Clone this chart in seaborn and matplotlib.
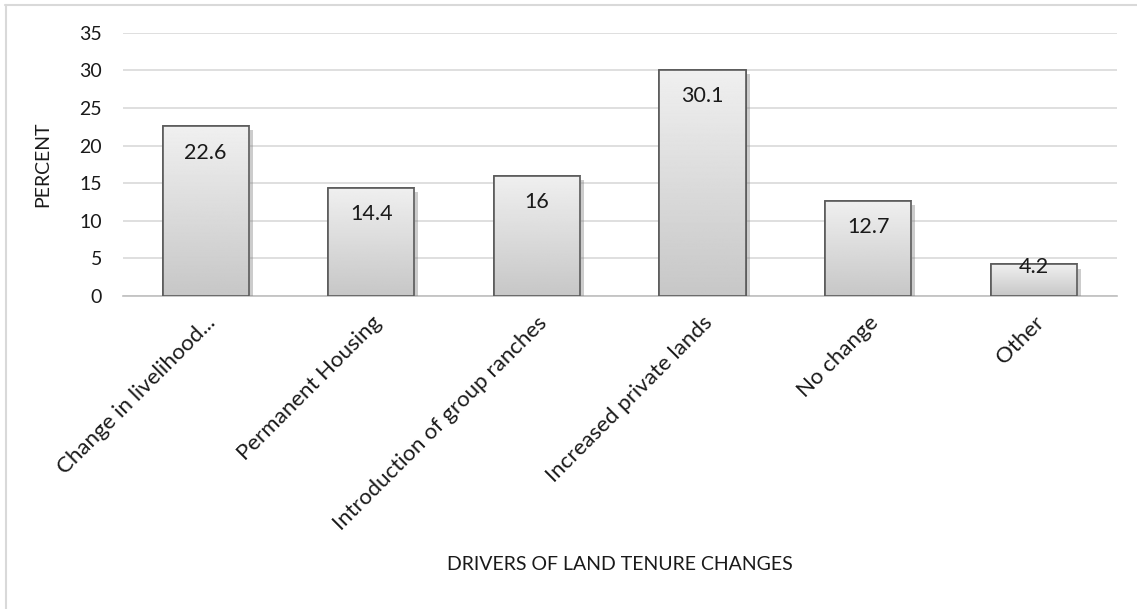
import numpy as np
import pandas as pd
import matplotlib
matplotlib.use("Agg")
import matplotlib.pyplot as plt
import matplotlib.patheffects as pe
from matplotlib.patches import Rectangle
from matplotlib.lines import Line2D
import seaborn as sns

# --- Data ---
drivers = [
    "Change in livelihood...",
    "Permanent Housing",
    "Introduction of group ranches",
    "Increased private lands",
    "No change",
    "Other",
]
percent = [22.6, 14.4, 16, 30.1, 12.7, 4.2]
value_labels = ["22.6", "14.4", "16", "30.1", "12.7", "4.2"]
y_ticks = [0, 5, 10, 15, 20, 25, 30, 35]

# --- Style ---
sns.set_style("white")
plt.rcParams["font.family"] = ["Lato", "DejaVu Sans"]
TEXT_COLOR = "#1a1a1a"
GRID_COLOR = "#d9d9d9"

df = pd.DataFrame({"driver": drivers, "percent": percent})

fig = plt.figure(figsize=(11.37, 6.09), dpi=100)
ax = fig.add_axes([0.108, 0.514, 0.874, 0.432])

sns.barplot(data=df, x="driver", y="percent", ax=ax, width=0.52,
            color="#dcdcdc", edgecolor="#5a5a5a", linewidth=1.2, zorder=3)

ax.set_ylim(0, 35)
ax.set_yticks(y_ticks)
ax.yaxis.grid(True, color=GRID_COLOR, linewidth=1.2, zorder=0)
ax.set_axisbelow(True)
for side in ["top", "right", "left"]:
    ax.spines[side].set_visible(False)
ax.spines["bottom"].set_color("#bfbfbf")
ax.spines["bottom"].set_linewidth(1.2)
ax.tick_params(axis="both", length=0)
ax.tick_params(axis="y", labelsize=14, labelcolor=TEXT_COLOR, pad=15)
ax.tick_params(axis="x", labelsize=16, labelcolor=TEXT_COLOR, pad=12)
plt.setp(ax.get_xticklabels(), rotation=45, ha="right", rotation_mode="anchor")

# gradient fill + shadow on every bar
grad = np.linspace(0.94, 0.78, 256).reshape(-1, 1)
for bar in list(ax.patches):
    x0, y0 = bar.get_x(), bar.get_y()
    w, h = bar.get_width(), bar.get_height()
    bar.set_path_effects([pe.SimplePatchShadow(offset=(3, -3), shadow_rgbFace="#808080", alpha=0.4),
                          pe.Normal()])
    im = ax.imshow(grad, extent=[x0, x0 + w, y0, y0 + h], aspect="auto",
                   cmap="gray", vmin=0, vmax=1, zorder=3.5, origin="upper")
    im.set_clip_path(bar)
    edge = Rectangle((x0, y0), w, h, fill=False, edgecolor="#5a5a5a", linewidth=1.2, zorder=4)
    ax.add_patch(edge)

# value labels inside the bar top
for bar, lab in zip(ax.patches[:len(percent)], value_labels):
    top = bar.get_height()
    cx = bar.get_x() + bar.get_width() / 2
    off = -12 if top > 8 else 5
    ax.annotate(lab, (cx, top), xytext=(0, off), textcoords="offset points",
                ha="center", va="top", fontsize=15.5, color=TEXT_COLOR, zorder=5)

ax.set_xlim(-0.5, len(drivers) - 0.5)
ax.set_ylabel("PERCENT", fontsize=14, color=TEXT_COLOR, labelpad=20)
ax.set_xlabel("DRIVERS OF LAND TENURE CHANGES", fontsize=14, color=TEXT_COLOR)
ax.xaxis.set_label_coords(0.5, -0.99)

# light frame lines (top and left) around the chart area
fig.lines.append(Line2D([0.004, 1.0], [0.991, 0.991], transform=fig.transFigure,
                        color="#d9d9d9", linewidth=1.5))
fig.lines.append(Line2D([0.005, 0.005], [0.0, 0.991], transform=fig.transFigure,
                        color="#d9d9d9", linewidth=1.5))

fig.savefig("out.png", dpi=100)
